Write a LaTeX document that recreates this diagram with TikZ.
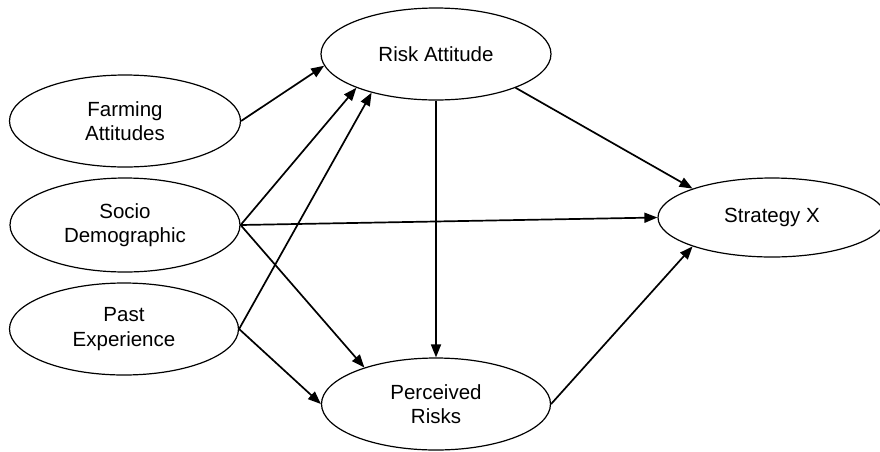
\documentclass[tikz,border=0pt]{standalone}
\usepackage{fontspec}
\setmainfont{Liberation Sans}
\usetikzlibrary{shapes.geometric,arrows.meta}

\tikzset{
  factor/.style={ellipse, draw=black, line width=1.2pt, inner sep=0pt,
    align=center, font=\fontsize{20.5}{24.5}\selectfont},
  path/.style={line width=1.7pt, draw=black,
    -{Triangle[length=13pt,width=10pt]}},
}

\begin{document}
\begin{tikzpicture}[x=1pt, y=-1pt]
  \useasboundingbox (0,0) rectangle (880,451);
  \clip (0,0) rectangle (880,451);
  \fill[white] (0,0) rectangle (880,451);

  % latent factors
  \node[factor, minimum width=231pt, minimum height=92pt] (fa) at (125,121) {Farming\\Attitudes};
  \node[factor, minimum width=230pt, minimum height=94pt] (sd) at (125,225) {Socio\\Demographic};
  \node[factor, minimum width=229pt, minimum height=92pt] (pe) at (124,329) {Past\\Experience};
  \node[factor, minimum width=230pt, minimum height=92pt] (ra) at (436,54) {Risk Attitude};
  \node[factor, minimum width=229pt, minimum height=92pt] (pr) at (436,404) {Perceived\\Risks};
  \node[factor, minimum width=228pt, minimum height=79pt] (sx) at (772,217.5) {Strategy X};

  % paths into Risk Attitude
  \draw[path] (fa.east) -- (ra.186.7);
  \draw[path] (sd.east) -- (ra.203);
  \draw[path] (pe.east) -- (ra.211);

  % paths into Perceived Risks
  \draw[path] (sd.east) -- (pr.153.7);
  \draw[path] (pe.east) -- (pr.west);
  \draw[path] (ra.south) -- (pr.north);

  % paths into Strategy X
  \draw[path] (sd.east) -- (sx.west);
  \draw[path] (ra.337.5) -- (sx.160.2);
  \draw[path] (pr.east) -- (sx.200.2);
\end{tikzpicture}
\end{document}
